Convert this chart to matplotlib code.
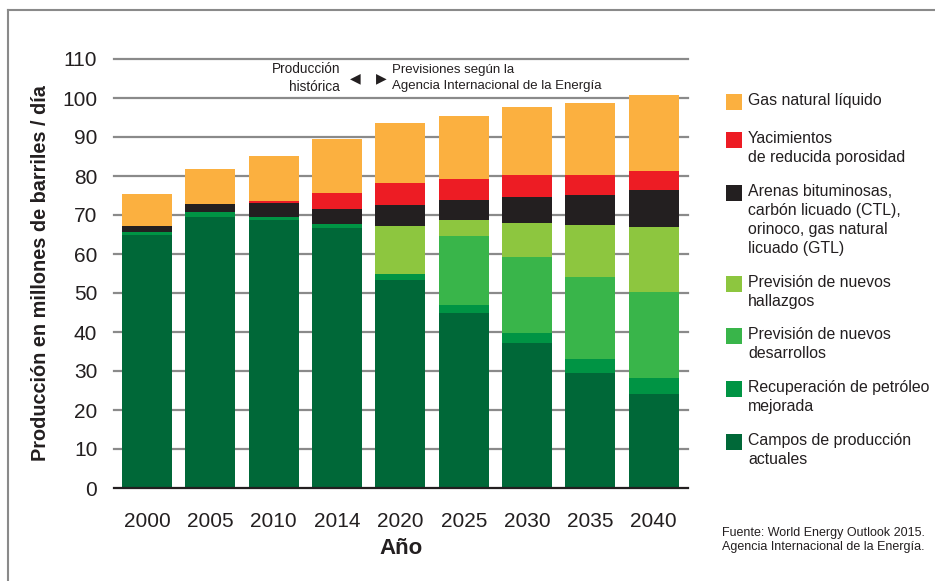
import numpy as np
import matplotlib.pyplot as plt
from matplotlib.patches import Rectangle
from matplotlib.lines import Line2D

years = ['2000', '2005', '2010', '2014', '2020', '2025', '2030', '2035', '2040']

# millones de barriles / día, por categoría (de abajo hacia arriba)
campos_actuales = [65.0, 69.6, 68.8, 66.7, 53.4, 44.9, 37.3, 29.6, 24.2]
recuperacion = [0.7, 1.1, 0.8, 1.1, 1.5, 2.1, 2.5, 3.6, 4.1]
nuevos_desarrollos = [0.0, 0.0, 0.0, 0.0, 0.0, 17.7, 19.5, 21.0, 22.0]
nuevos_hallazgos = [0.0, 0.0, 0.0, 0.0, 12.4, 4.1, 8.7, 13.3, 16.5]
arenas_ctl_gtl = [1.6, 2.0, 3.6, 3.8, 5.3, 5.1, 6.7, 7.7, 9.7]
baja_porosidad = [0.0, 0.0, 0.5, 4.1, 5.7, 5.4, 5.6, 5.1, 4.9]
gas_liquido = [8.2, 9.2, 11.5, 13.9, 15.4, 16.2, 17.5, 18.5, 19.4]

series = [campos_actuales, recuperacion, nuevos_desarrollos, nuevos_hallazgos,
          arenas_ctl_gtl, baja_porosidad, gas_liquido]
colors = ['#006838', '#009444', '#39B54A', '#8DC63F', '#231F20', '#ED1C24', '#FBB040']

# legend order is top to bottom (reverse of stacking)
legend_labels = [
    'Gas natural líquido',
    'Yacimientos\nde reducida porosidad',
    'Arenas bituminosas,\ncarbón licuado (CTL),\norinoco, gas natural\nlicuado (GTL)',
    'Previsión de nuevos\nhallazgos',
    'Previsión de nuevos\ndesarrollos',
    'Recuperación de petróleo\nmejorada',
    'Campos de producción\nactuales',
]

yticks = list(range(0, 120, 10))

W, H = 935, 581
TXT = '#231F20'
GRID = '#8a8a8a'
plt.rcParams['font.family'] = ['Liberation Sans', 'DejaVu Sans']


def px(x, y):
    return x / W, 1 - y / H


fig = plt.figure(figsize=(W / 100, H / 100), dpi=100)
ax = fig.add_axes([114 / W, (H - 488) / H, (688 - 114) / W, (488 - 59) / H])

x = np.arange(len(years))
bottom = np.zeros(len(years))
for vals, c in zip(series, colors):
    ax.bar(x, vals, bottom=bottom, width=0.79, color=c, zorder=3, linewidth=0)
    bottom += np.array(vals)

for t in yticks[1:]:
    ax.axhline(t, color=GRID, lw=1.6, zorder=1, clip_on=False)
ax.axhline(0, color=TXT, lw=1.6, zorder=4, clip_on=False)

ax.set_xlim(-0.52, 8.54)
ax.set_ylim(0, 110)
for s in ax.spines.values():
    s.set_visible(False)
ax.set_yticks(yticks)
ax.set_xticks(x)
ax.set_xticklabels(years)
ax.tick_params(axis='both', length=0, labelsize=15, colors=TXT)
ax.tick_params(axis='y', pad=12)
ax.tick_params(axis='x', pad=17)
ax.set_xlabel('Año', fontsize=16, fontweight='bold', color=TXT, labelpad=5)
ax.set_ylabel('Producción en millones de barriles / día', fontsize=14.3,
              fontweight='bold', color=TXT, labelpad=9)

# historical vs. forecast marker
fig.text(*px(340, 78), 'Producción\nhistórica', ha='right', va='center',
         fontsize=9.8, color=TXT, linespacing=1.4)
fig.text(*px(355, 78), '◀', ha='center', va='center', fontsize=10,
         color=TXT, family='DejaVu Sans')
fig.text(*px(381, 78), '▶', ha='center', va='center', fontsize=10,
         color=TXT, family='DejaVu Sans')
fig.text(*px(392, 78), 'Previsiones según la\nAgencia Internacional de la Energía',
         ha='left', va='center', fontsize=9.5, color=TXT, linespacing=1.4)

# legend
leg_tops = [94, 132, 185, 276, 328, 381, 434]
for top, lab, c in zip(leg_tops, legend_labels, colors[::-1]):
    x0, y0 = px(726, top + 16)
    fig.add_artist(Rectangle((x0, y0), 16 / W, 16 / H, color=c, lw=0,
                             transform=fig.transFigure))
    fig.text(*px(748, top - 1), lab, ha='left', va='top', fontsize=11.4,
             color=TXT, linespacing=1.32)

fig.text(*px(925, 540), 'Fuente: World Energy Outlook 2015.\nAgencia Internacional de la Energía.',
         ha='right', va='center', fontsize=9, color=TXT, multialignment='right',
         linespacing=1.2)

# frame around the figure
fig.add_artist(Line2D([7.5 / W, 7.5 / W], [0, 1 - 9.5 / H], color=GRID, lw=1.5))
fig.add_artist(Line2D([7.5 / W, 1], [1 - 9.5 / H, 1 - 9.5 / H], color=GRID, lw=1.5))

fig.savefig('out.png', dpi=100)
